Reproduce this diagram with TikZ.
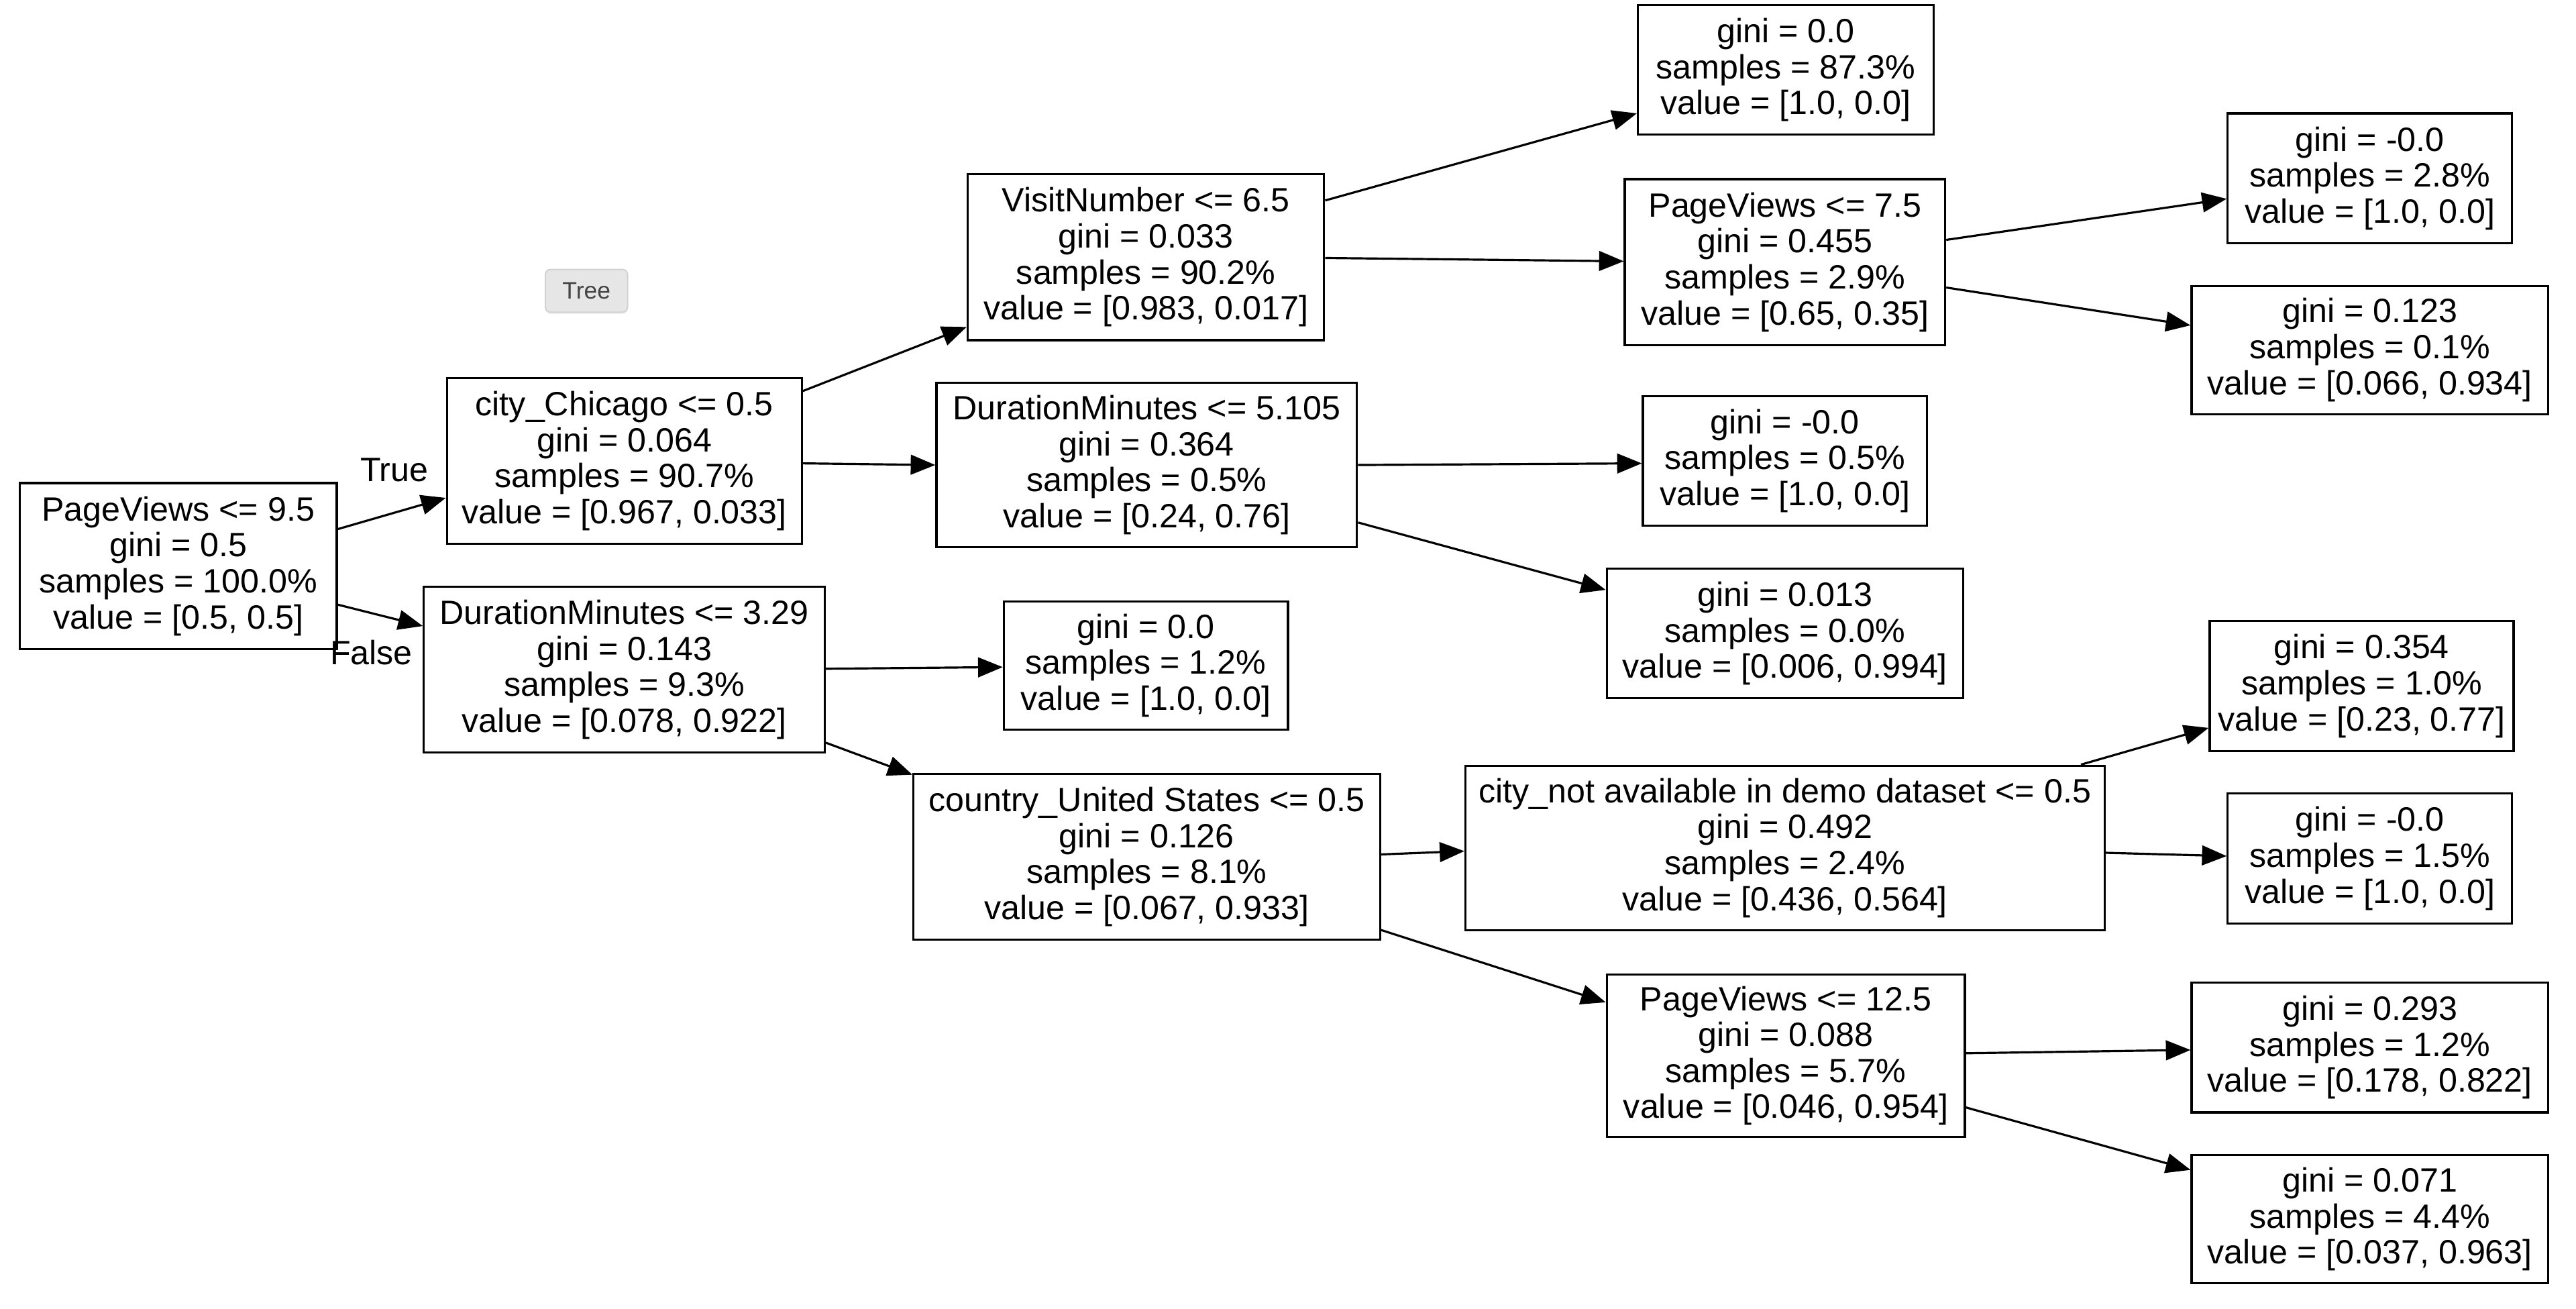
\documentclass[tikz,border=0pt]{standalone}
\usepackage{fontspec}
\setmainfont{Liberation Sans}
\usetikzlibrary{arrows.meta,shadows}
\definecolor{btnfill}{HTML}{E6E6E6}
\definecolor{btnline}{HTML}{D2D2D2}
\definecolor{btntext}{HTML}{444444}
\tikzset{
  treebox/.style={draw, line width=1.3pt, align=center, inner sep=0pt,
    font=\fontsize{20.5}{21.9}\selectfont},
  treeedge/.style={line width=1.3pt, -{Triangle[length=15pt,width=12pt]}},
  edgelabel/.style={font=\fontsize{20.5}{21.9}\selectfont, inner sep=0pt},
}
\begin{document}
\begin{tikzpicture}[x=1pt,y=-1pt]
\useasboundingbox (0,0) rectangle (1568,796.66);
\fill[white] (0,0) rectangle (1568,796.66);

% button
\node[fill=btnfill, draw=btnline, line width=0.8pt, rounded corners=3pt,
  minimum width=50pt, minimum height=26pt, inner sep=0pt, text=btntext,
  font=\fontsize{14.5}{16}\selectfont, drop shadow={opacity=0.12, shadow xshift=0pt, shadow yshift=-1pt}]
  (btn) at (357,177) {Tree};

% nodes
\node[treebox, minimum width=193pt, minimum height=101pt] (root) at (108.5,344.5)
  {PageViews <= 9.5\\gini = 0.5\\samples = 100.0\%\\value = [0.5, 0.5]};
\node[treebox, minimum width=216pt, minimum height=101pt] (chi) at (380,280.5)
  {city\_Chicago <= 0.5\\gini = 0.064\\samples = 90.7\%\\value = [0.967, 0.033]};
\node[treebox, minimum width=244pt, minimum height=101pt] (dura) at (380,407.5)
  {DurationMinutes <= 3.29\\gini = 0.143\\samples = 9.3\%\\value = [0.078, 0.922]};
\node[treebox, minimum width=217pt, minimum height=101pt] (visit) at (697.5,156.5)
  {VisitNumber <= 6.5\\gini = 0.033\\samples = 90.2\%\\value = [0.983, 0.017]};
\node[treebox, minimum width=256pt, minimum height=100pt] (durb) at (698,283)
  {DurationMinutes <= 5.105\\gini = 0.364\\samples = 0.5\%\\value = [0.24, 0.76]};
\node[treebox, minimum width=173pt, minimum height=78pt] (leafA) at (697.5,405)
  {gini = 0.0\\samples = 1.2\%\\value = [1.0, 0.0]};
\node[treebox, minimum width=284pt, minimum height=101pt] (country) at (698,521.5)
  {country\_United States <= 0.5\\gini = 0.126\\samples = 8.1\%\\value = [0.067, 0.933]};
\node[treebox, minimum width=180pt, minimum height=79pt] (leafB) at (1087,42.5)
  {gini = 0.0\\samples = 87.3\%\\value = [1.0, 0.0]};
\node[treebox, minimum width=195pt, minimum height=101pt] (pvb) at (1086.5,159.5)
  {PageViews <= 7.5\\gini = 0.455\\samples = 2.9\%\\value = [0.65, 0.35]};
\node[treebox, minimum width=173pt, minimum height=79pt] (leafC) at (1086.5,280.5)
  {gini = -0.0\\samples = 0.5\%\\value = [1.0, 0.0]};
\node[treebox, minimum width=217pt, minimum height=79pt] (leafD) at (1086.5,385.5)
  {gini = 0.013\\samples = 0.0\%\\value = [0.006, 0.994]};
\node[treebox, minimum width=389pt, minimum height=100pt] (citynot) at (1086.5,516)
  {city\_not available in demo dataset <= 0.5\\gini = 0.492\\samples = 2.4\%\\value = [0.436, 0.564]};
\node[treebox, minimum width=218pt, minimum height=99pt] (pvc) at (1087,642.5)
  {PageViews <= 12.5\\gini = 0.088\\samples = 5.7\%\\value = [0.046, 0.954]};
\node[treebox, minimum width=173pt, minimum height=79pt] (leafE) at (1442.5,108.5)
  {gini = -0.0\\samples = 2.8\%\\value = [1.0, 0.0]};
\node[treebox, minimum width=217pt, minimum height=78pt] (leafF) at (1442.5,213)
  {gini = 0.123\\samples = 0.1\%\\value = [0.066, 0.934]};
\node[treebox, minimum width=185pt, minimum height=79pt] (leafG) at (1437.5,417.5)
  {gini = 0.354\\samples = 1.0\%\\value = [0.23, 0.77]};
\node[treebox, minimum width=173pt, minimum height=79pt] (leafH) at (1442.5,522.5)
  {gini = -0.0\\samples = 1.5\%\\value = [1.0, 0.0]};
\node[treebox, minimum width=217pt, minimum height=79pt] (leafI) at (1442.5,637.5)
  {gini = 0.293\\samples = 1.2\%\\value = [0.178, 0.822]};
\node[treebox, minimum width=217pt, minimum height=78pt] (leafJ) at (1442.5,742)
  {gini = 0.071\\samples = 4.4\%\\value = [0.037, 0.963]};

% edges
\draw[treeedge] ([yshift=22.5pt]root.east) -- ([yshift=-22.5pt]chi.west);
\draw[treeedge] ([yshift=-23.5pt]root.east) -- ([yshift=26.5pt]dura.west);
\draw[treeedge] ([yshift=42.5pt]chi.east) -- ([yshift=-42.5pt]visit.west);
\draw[treeedge] ([yshift=-1.5pt]chi.east) -- (durb.west);
\draw[treeedge] ([yshift=0.5pt]dura.east) -- ([yshift=-1pt]leafA.west);
\draw[treeedge] ([yshift=-44.5pt]dura.east) -- ([yshift=50pt]country.west);
\draw[treeedge] ([yshift=34.5pt]visit.east) -- ([yshift=-26.5pt]leafB.west);
\draw[treeedge] ([yshift=-0.5pt]visit.east) -- ([yshift=0.5pt]pvb.west);
\draw[treeedge] (durb.east) -- ([yshift=-1.5pt]leafC.west);
\draw[treeedge] ([yshift=-35pt]durb.east) -- ([yshift=26.5pt]leafD.west);
\draw[treeedge] ([yshift=1.5pt]country.east) -- ([yshift=-2pt]citynot.west);
\draw[treeedge] ([yshift=-44.5pt]country.east) -- ([yshift=32.5pt]pvc.west);
\draw[treeedge] ([yshift=13.5pt]pvb.east) -- ([yshift=-12.5pt]leafE.west);
\draw[treeedge] ([yshift=-15.5pt]pvb.east) -- ([yshift=15pt]leafF.west);
\draw[treeedge] ([xshift=-15pt]citynot.north east) -- ([yshift=-25.5pt]leafG.west);
\draw[treeedge] ([yshift=-3pt]citynot.east) -- ([yshift=1.5pt]leafH.west);
\draw[treeedge] ([yshift=1.5pt]pvc.east) -- ([yshift=-1.5pt]leafI.west);
\draw[treeedge] ([yshift=-31.5pt]pvc.east) -- ([yshift=30pt]leafJ.west);

% edge labels
\node[edgelabel] (ltrue) at (240,286) {True};
\node[edgelabel] (lfalse) at (226,397) {False};
\end{tikzpicture}
\end{document}
